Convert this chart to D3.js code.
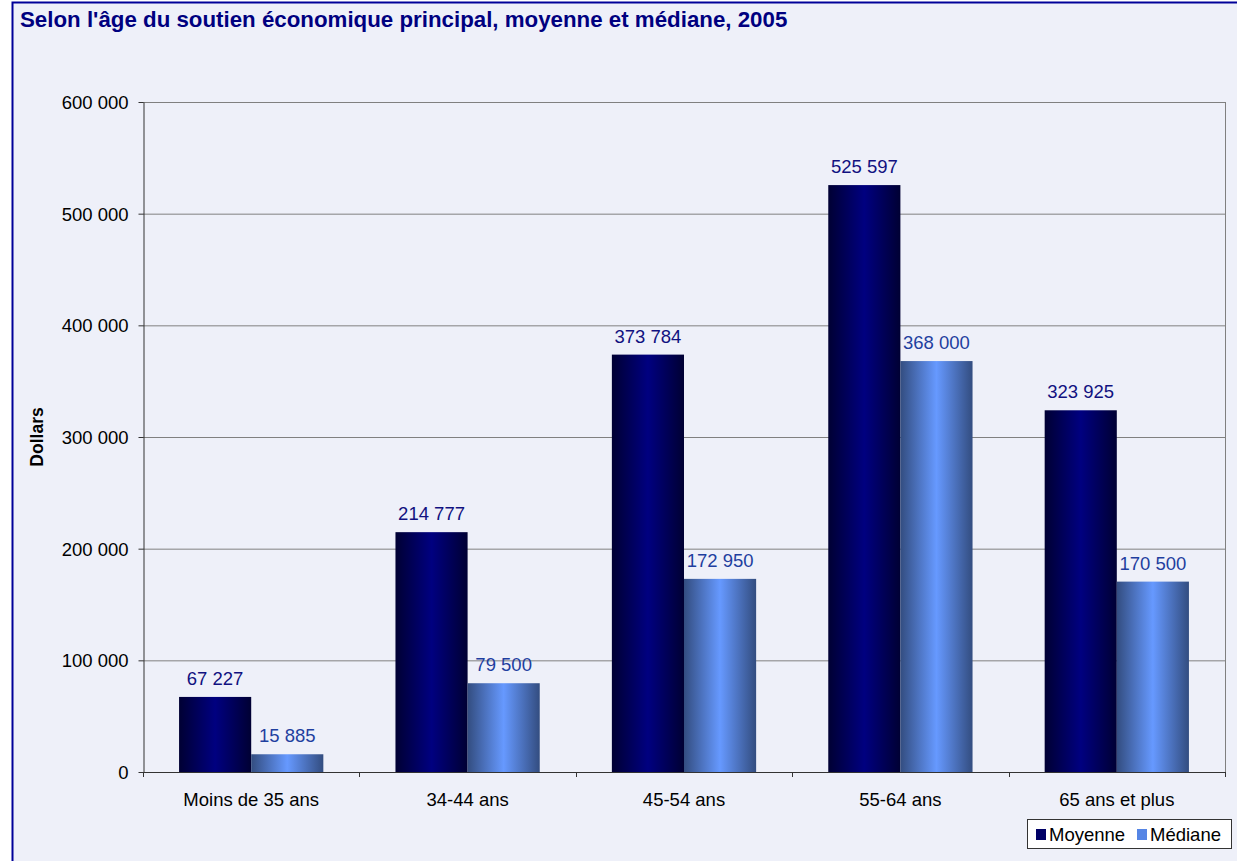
<!DOCTYPE html>
<html><head><meta charset="utf-8">
<script src="https://cdn.jsdelivr.net/npm/d3@7"></script>
<style>
html,body{margin:0;padding:0;background:#fff;}
svg{display:block;font-family:Arial,"Liberation Sans",sans-serif;}
</style></head>
<body>
<script>
const categories = ["Moins de 35 ans","34-44 ans","45-54 ans","55-64 ans","65 ans et plus"];
const seriesNames = ["Moyenne","Médiane"];
const moyenne = [67227,214777,373784,525597,323925];
const mediane = [15885,79500,172950,368000,170500];
const yTicks = [0,100000,200000,300000,400000,500000,600000];
const title = "Selon l'âge du soutien économique principal, moyenne et médiane, 2005";
const yTitle = "Dollars";

const W=1237,H=861;
const FF="Arial,'Liberation Sans',sans-serif";
const svg=d3.select("body").append("svg").attr("width",W).attr("height",H);
const defs=svg.append("defs");
function grad(id,edge,center){
  const g=defs.append("linearGradient").attr("id",id).attr("x1","0%").attr("x2","100%").attr("y1","0%").attr("y2","0%");
  g.append("stop").attr("offset","0%").attr("stop-color",edge);
  g.append("stop").attr("offset","50%").attr("stop-color",center);
  g.append("stop").attr("offset","100%").attr("stop-color",edge);
}
grad("gMoy","#000033","#000080");
grad("gMed","#334d80","#6699ff");

svg.append("rect").attr("x",12.5).attr("y",2.5).attr("width",W).attr("height",H).attr("fill","#eef0f9").attr("stroke","#000099").attr("stroke-width",2);

const m={l:143,t:102,r:1225,b:772};
const x=d3.scaleBand().domain(categories).range([m.l,m.r]).paddingInner(0).paddingOuter(0);
const y=d3.scaleLinear().domain([0,600000]).range([m.b,m.t]);
const fmt=v=>d3.format(",")(v).replace(/,/g," ");

// gridlines
svg.append("g").selectAll("line").data(yTicks.filter(d=>d>0)).join("line")
 .attr("x1",m.l).attr("x2",m.r).attr("y1",d=>y(d)+0.5).attr("y2",d=>y(d)+0.5)
 .attr("stroke","#808080").attr("stroke-width",1);
svg.append("line").attr("x1",m.r+0.5).attr("x2",m.r+0.5).attr("y1",m.t).attr("y2",m.b).attr("stroke","#808080");

// bars
const bw=x.bandwidth()/3;
const series=[{name:seriesNames[0],vals:moyenne,fill:"url(#gMoy)",lab:"#111180",off:0},
              {name:seriesNames[1],vals:mediane,fill:"url(#gMed)",lab:"#1f3f9f",off:1}];
series.forEach(s=>{
  svg.append("g").selectAll("rect").data(categories).join("rect")
   .attr("x",(c)=>x(c)+bw/2+s.off*bw).attr("width",bw)
   .attr("y",(c,i)=>y(s.vals[i])).attr("height",(c,i)=>y(0)-y(s.vals[i]))
   .attr("fill",s.fill);
  svg.append("g").selectAll("text").data(categories).join("text")
   .attr("x",(c)=>x(c)+bw/2+s.off*bw+bw/2).attr("y",(c,i)=>y(s.vals[i])-12)
   .attr("text-anchor","middle").attr("font-size",18.5).attr("font-family",FF).attr("fill",s.lab)
   .text((c,i)=>fmt(s.vals[i]));
});

// axes
const ya=svg.append("g").attr("transform",`translate(${m.l+0.5},0)`)
 .call(d3.axisLeft(y).tickValues(yTicks).tickFormat(fmt).tickSize(5).tickSizeOuter(0));
ya.attr("font-size",null).attr("font-family",null);
ya.select(".domain").attr("stroke","#333");
ya.selectAll(".tick line").attr("stroke","#333");
ya.selectAll("text").attr("font-size",18.5).attr("fill","#000").attr("font-family",FF).attr("x",-15).attr("dy","0.35em");

const xa=svg.append("g").attr("transform",`translate(0,${m.b+0.5})`)
 .call(d3.axisBottom(x).tickSize(0).tickSizeOuter(0));
xa.attr("font-size",null).attr("font-family",null);
xa.select(".domain").attr("stroke","#333").attr("d",`M${m.l},0H${m.r}`);
xa.selectAll("text").attr("font-size",18.5).attr("fill","#000").attr("font-family",FF).attr("y",33).attr("dy",null);
// category separator ticks
svg.append("g").selectAll("line").data(d3.range(categories.length+1)).join("line")
 .attr("x1",i=>Math.round(m.l+i*x.step())+0.5).attr("x2",i=>Math.round(m.l+i*x.step())+0.5)
 .attr("y1",m.b).attr("y2",m.b+5).attr("stroke","#333");

// titles
svg.append("text").attr("x",20).attr("y",27).attr("font-size",22.3).attr("font-weight","bold").attr("font-family",FF).attr("fill","#000080").text(title);
svg.append("text").attr("transform",`translate(43,${(m.t+m.b)/2}) rotate(-90)`).attr("text-anchor","middle")
 .attr("font-size",17.5).attr("font-weight","bold").attr("font-family",FF).attr("fill","#000").text(yTitle);

// legend
const lg=svg.append("g");
lg.append("rect").attr("x",1027.5).attr("y",819.5).attr("width",204).attr("height",29).attr("fill","#fff").attr("stroke","#333");
const items=[{n:seriesNames[0],c:"#000066",x:1036},{n:seriesNames[1],c:"#5585e5",x:1137}];
items.forEach(it=>{
  lg.append("rect").attr("x",it.x).attr("y",829).attr("width",10).attr("height",11).attr("fill",it.c);
  lg.append("text").attr("x",it.x+13).attr("y",841).attr("font-size",18.5).attr("font-family",FF).attr("fill","#000").text(it.n);
});
</script>
</body></html>
